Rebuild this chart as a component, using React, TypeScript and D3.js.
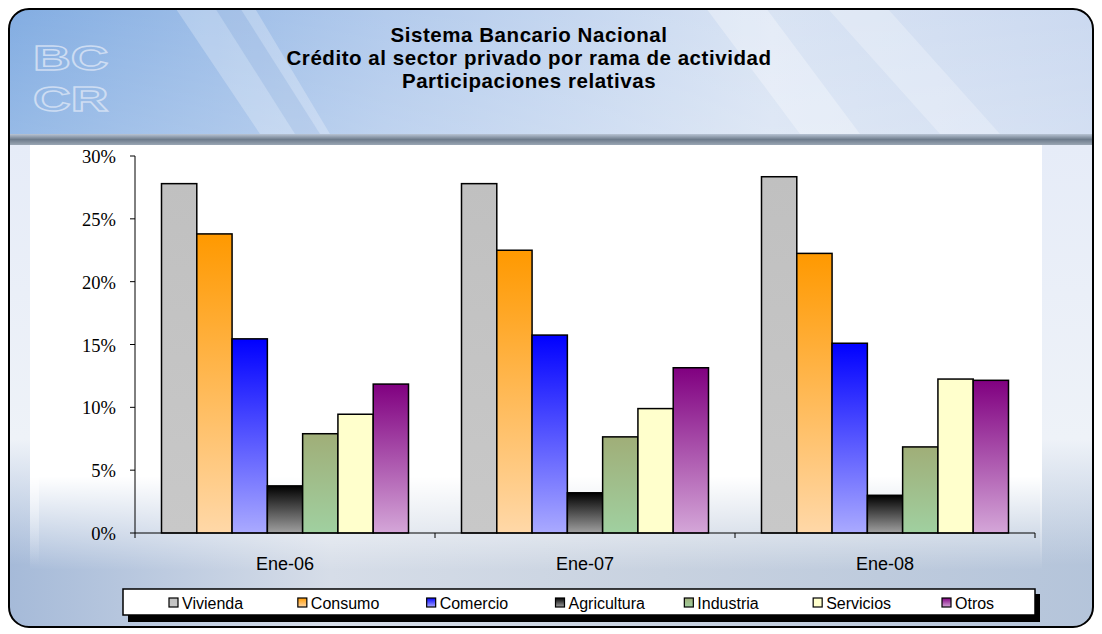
import React from "react";
import * as d3 from "d3";

const categories = ["Ene-06", "Ene-07", "Ene-08"];
const seriesNames = ["Vivienda", "Consumo", "Comercio", "Agricultura", "Industria", "Servicios", "Otros"];
const vivienda = [27.8, 27.8, 28.35];
const consumo = [23.8, 22.5, 22.25];
const comercio = [15.45, 15.75, 15.1];
const agricultura = [3.75, 3.2, 3.0];
const industria = [7.9, 7.65, 6.85];
const servicios = [9.45, 9.9, 12.25];
const otros = [11.85, 13.15, 12.15];
const yTicks = [0, 5, 10, 15, 20, 25, 30];
const titleLines = ["Sistema Bancario Nacional", "Crédito al sector privado por rama de actividad", "Participaciones relativas"];

const seriesValues = [vivienda, consumo, comercio, agricultura, industria, servicios, otros];
const gradients: [string, string][] = [
  ["#c0c0c0", "#c8c8c8"],
  ["#ff9900", "#ffd8a8"],
  ["#0000ff", "#aaaaff"],
  ["#000000", "#a0a0a0"],
  ["#a0ae78", "#a0d0a0"],
  ["#ffffcc", "#ffffcc"],
  ["#800080", "#d4a6d8"],
];

export default function App() {
  const W = 1102, H = 634;
  const x0 = d3.scaleBand<string>().domain(categories).range([135, 1035]).paddingInner(0).paddingOuter(0);
  const groupPad = (300 - 247) / 2;
  const x1 = d3.scaleBand<string>().domain(seriesNames).range([0, 247]).padding(0);
  const y = d3.scaleLinear().domain([0, 30]).range([533, 156]);
  const legendX = d3.scalePoint<string>().domain(seriesNames).range([169, 942]);
  const sans = "Liberation Sans, Arial, sans-serif";

  return (
    <svg width={W} height={H} style={{ display: "block", position: "absolute", left: 0, top: 0 }}>
      <defs>
        <linearGradient id="hdr" x1="0" y1="0" x2="1" y2="0">
          <stop offset="0" stopColor="#72a2de" />
          <stop offset="0.35" stopColor="#a9c4ea" />
          <stop offset="0.7" stopColor="#d4e0f2" />
          <stop offset="1" stopColor="#c4d4ee" />
        </linearGradient>
        <linearGradient id="hdrV" x1="0" y1="0" x2="0" y2="1">
          <stop offset="0" stopColor="#ffffff" stopOpacity="0.1" />
          <stop offset="1" stopColor="#ffffff" stopOpacity="0.25" />
        </linearGradient>
        <linearGradient id="band" x1="0" y1="0" x2="0" y2="1">
          <stop offset="0" stopColor="#b8c4d4" />
          <stop offset="0.5" stopColor="#6e7c8c" />
          <stop offset="1" stopColor="#9aa6b4" />
        </linearGradient>
        <linearGradient id="bottomBg" x1="0" y1="0" x2="1" y2="0">
          <stop offset="0" stopColor="#a4b9d8" />
          <stop offset="0.3" stopColor="#d6dde8" />
          <stop offset="0.6" stopColor="#c8d2e0" />
          <stop offset="1" stopColor="#b4c4da" />
        </linearGradient>
        <linearGradient id="plotFade" x1="0" y1="0" x2="0" y2="1">
          <stop offset="0" stopColor="#ffffff" />
          <stop offset="0.78" stopColor="#ffffff" />
          <stop offset="1" stopColor="#ffffff" stopOpacity="0" />
        </linearGradient>
        <linearGradient id="sideFade" x1="0" y1="0" x2="0" y2="1">
          <stop offset="0" stopColor="#e6ecf8" />
          <stop offset="0.7" stopColor="#eef2f8" />
          <stop offset="1" stopColor="#eef2f8" stopOpacity="0" />
        </linearGradient>
        <clipPath id="frameClip">
          <rect x={9} y={9} width={1084} height={618} rx={20} />
        </clipPath>
        {gradients.map((g, i) => (
          <linearGradient key={i} id={`g${i}`} x1="0" y1="0" x2="0" y2="1">
            <stop offset="0" stopColor={g[0]} />
            <stop offset="1" stopColor={g[1]} />
          </linearGradient>
        ))}
      </defs>
      <rect x={0} y={0} width={W} height={H} fill="#ffffff" />
      <g clipPath="url(#frameClip)">
        <rect x={0} y={0} width={W} height={H} fill="url(#bottomBg)" />
        <rect x={0} y={0} width={W} height={134} fill="url(#hdr)" />
        <polygon points="170,0 250,0 330,134 260,134" fill="#ffffff" opacity={0.25} />
        <polygon points="210,0 235,0 320,134 295,134" fill="#5a8ad0" opacity={0.25} />
        <polygon points="700,0 760,0 860,134 800,134" fill="#ffffff" opacity={0.3} />
        <polygon points="820,0 880,0 1000,134 940,134" fill="#ffffff" opacity={0.25} />
        <rect x={0} y={0} width={W} height={134} fill="url(#hdrV)" />
        <g fill="none" stroke="#d8e3f5" strokeWidth={1.4} opacity={0.85}
          style={{ fontFamily: sans, fontSize: 36, fontWeight: 700 }}>
          <text transform="translate(33,70) scale(1.45,1)">BC</text>
          <text transform="translate(33,111) scale(1.45,1)">CR</text>
        </g>
        <rect x={0} y={134} width={W} height={11} fill="url(#band)" />
        <rect x={1040} y={145} width={62} height={420} fill="url(#sideFade)" />
        <rect x={9} y={145} width={30} height={420} fill="url(#sideFade)" />
        <rect x={30} y={145} width={1012} height={425} fill="url(#plotFade)" />
      </g>
      <rect x={9} y={9} width={1084} height={618} rx={20} fill="none" stroke="#000" strokeWidth={2} />

      <g style={{ fontFamily: sans, fontWeight: 700, fontSize: 20.5, letterSpacing: 0.55 }} textAnchor="middle" fill="#000">
        {titleLines.map((t, i) => (
          <text key={i} x={529} y={42 + i * 23}>{t}</text>
        ))}
      </g>

      {/* bars */}
      {categories.map((c, ci) => (
        <g key={c} transform={`translate(${(x0(c) as number) + groupPad},0)`}>
          {seriesNames.map((s, si) => {
            const v = seriesValues[si][ci];
            return (
              <rect key={s} x={x1(s) as number} y={y(v)} width={x1.bandwidth()} height={y(0) - y(v)}
                fill={`url(#g${si})`} stroke="#000" strokeWidth={1.5} />
            );
          })}
        </g>
      ))}

      {/* y axis */}
      <line x1={135} x2={135} y1={y(30)} y2={y(0)} stroke="#000" />
      {yTicks.map((t) => (
        <g key={t}>
          <line x1={130} x2={135} y1={y(t)} y2={y(t)} stroke="#000" />
          <text x={116} y={y(t) + 7} textAnchor="end"
            style={{ fontFamily: "Liberation Serif, Times New Roman, serif", fontSize: 18.5 }}>{t}%</text>
        </g>
      ))}
      {/* x axis */}
      <line x1={135} x2={1035} y1={y(0)} y2={y(0)} stroke="#000" />
      {[...categories.map((c) => x0(c) as number), 1035].map((xx, i) => (
        <line key={i} x1={xx} x2={xx} y1={y(0)} y2={y(0) + 5} stroke="#000" />
      ))}
      {categories.map((c) => (
        <text key={c} x={(x0(c) as number) + x0.bandwidth() / 2} y={570} textAnchor="middle"
          style={{ fontFamily: sans, fontSize: 18 }}>{c}</text>
      ))}

      {/* legend */}
      <rect x={128} y={594} width={912} height={28} fill="#000" />
      <rect x={123} y={589} width={912} height={26} fill="#fff" stroke="#000" strokeWidth={1.5} />
      {seriesNames.map((s, si) => {
        const lx = legendX(s) as number;
        return (
          <g key={s}>
            <rect x={lx} y={598} width={9} height={9} fill={`url(#g${si})`} stroke="#000" strokeWidth={1.2} />
            <text x={lx + 13} y={608.5} style={{ fontFamily: sans, fontSize: 16 }}>{s}</text>
          </g>
        );
      })}
    </svg>
  );
}
